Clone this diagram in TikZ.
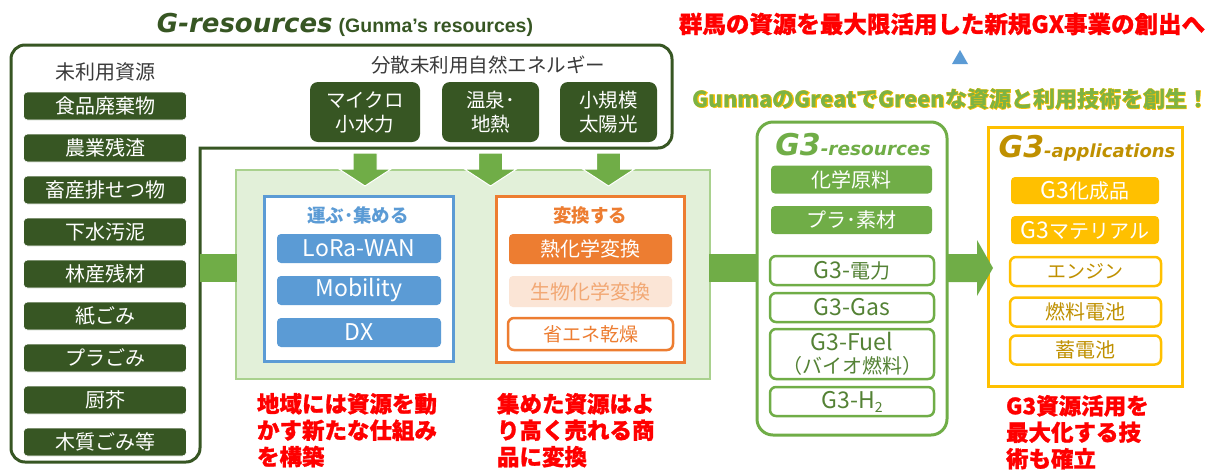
\documentclass[tikz,border=0pt]{standalone}
\usepackage{fontspec}
\setmainfont{Noto Sans CJK JP}
\newfontfamily\dejavu{DejaVu Sans}
\newfontfamily\libsans{Liberation Sans}
\usetikzlibrary{calc}
\definecolor{dkgreen}{HTML}{375623}
\definecolor{agreen}{HTML}{70AD47}
\definecolor{txgreen}{HTML}{548235}
\definecolor{lgfill}{HTML}{E2F0D9}
\definecolor{lgdraw}{HTML}{A9D18E}
\definecolor{cblue}{HTML}{5B9BD5}
\definecolor{corange}{HTML}{ED7D31}
\definecolor{peach}{HTML}{FBE5D6}
\definecolor{peachtx}{HTML}{F2A874}
\definecolor{gold}{HTML}{FFC000}
\definecolor{dkgold}{HTML}{BF9000}
\definecolor{cred}{HTML}{FF0000}
\definecolor{popgreen}{HTML}{7DB344}
\definecolor{dgray}{HTML}{3A3A3A}
\newcommand\myfs[1]{\fontsize{#1}{#1}\selectfont}
\newcommand\lat[1]{{\myfs{23}#1}}
\begin{document}
\begin{tikzpicture}[x=1pt,y=-1pt,
  every node/.style={inner sep=0pt,outer sep=0pt},
  lbox/.style={fill=dkgreen,draw=white,line width=0.6pt,rounded corners=4pt,text=white,minimum width=163pt,minimum height=28pt,font=\myfs{20}},
  tbox/.style={fill=dkgreen,rounded corners=8pt,text=white,align=center,font=\fontsize{19.5}{24}\selectfont,minimum height=60pt},
  bfill/.style={fill=cblue,rounded corners=4pt,text=white,minimum width=164pt,minimum height=29pt,font=\myfs{23}},
  ofill/.style={fill=corange,rounded corners=4pt,text=white,minimum width=163pt,minimum height=30pt,font=\myfs{20}},
  gfill/.style={fill=agreen,rounded corners=4pt,text=white,minimum width=161pt,minimum height=28pt,font=\myfs{20}},
  gline/.style={draw=agreen,line width=2.5pt,fill=white,rounded corners=6pt,text=txgreen,minimum width=164pt,minimum height=29pt,font=\myfs{20}},
  yfill/.style={fill=gold,rounded corners=4pt,text=white,minimum width=148pt,minimum height=27pt,font=\myfs{20}},
  yline/.style={draw=gold,line width=2.5pt,fill=white,rounded corners=6pt,text=dkgold,minimum width=151pt,minimum height=29pt,font=\myfs{19}},
  redtxt/.style={text=cred,font=\bfseries\fontsize{22.5}{26.5}\selectfont\addfontfeature{FakeBold=1},align=left,anchor=north west},
  arr/.style={fill=agreen}
]
\useasboundingbox (0,0) rectangle (1207,472);

% title
\node[text=dkgreen] (title) at (345,25) {{\dejavu\bfseries\itshape\myfs{26}G-resources}\hspace{6pt}{\libsans\bfseries\myfs{19.5}(Gunma’s resources)}};

% outer frame
\draw[dkgreen,line width=3pt,rounded corners=14pt,line cap=rect] (200,148) -- (672,148) -- (672,45) -- (11,45) -- (11,462) -- (200,462) -- (200,148);
\coordinate (lf) at (200,268);

% left column
\node[text=dgray,font=\myfs{20}] (lhead) at (105,72) {未利用資源};
\node[lbox] (l1) at (105,106) {食品廃棄物};
\node[lbox] (l2) at (105,148) {農業残渣};
\node[lbox] (l3) at (105,190) {畜産排せつ物};
\node[lbox] (l4) at (105,232) {下水汚泥};
\node[lbox] (l5) at (105,274) {林産残材};
\node[lbox] (l6) at (105,316) {紙ごみ};
\node[lbox] (l7) at (105,358) {プラごみ};
\node[lbox] (l8) at (105,400) {厨芥};
\node[lbox] (l9) at (105,442) {木質ごみ等};

% top energies
\node[text=dgray,font=\myfs{19.5}] (thead) at (488,65) {分散未利用自然エネルギー};
\node[tbox,minimum width=110pt] (e1) at (365,112) {マイクロ\\小水力};
\node[tbox,minimum width=97pt] (e2) at (490.5,112) {温泉･\\地熱};
\node[tbox,minimum width=97pt] (e3) at (608.5,112) {小規模\\太陽光};

% conversion area
\node[fill=lgfill,draw=lgdraw,line width=1.5pt,minimum width=474pt,minimum height=209pt] (conv) at (473,274.5) {};

\node[draw=cblue,line width=3pt,fill=white,minimum width=189pt,minimum height=165pt] (bluebox) at (358.5,278.5) {};
\node[text=cblue,font=\bfseries\myfs{18.5}] (btitle) at (358,215) {運ぶ･集める};
\node[bfill] (b1) at (359,248.5) {LoRa-WAN};
\node[bfill] (b2) at (359,290.5) {Mobility};
\node[bfill] (b3) at (359,332.5) {DX};

\node[draw=corange,line width=3pt,fill=white,minimum width=188pt,minimum height=166pt] (orbox) at (590,279) {};
\node[text=corange,font=\bfseries\myfs{18.5}] (otitle) at (590,215) {変換する};
\node[ofill] (o1) at (590.5,249) {熱化学変換};
\node[ofill,fill=peach,text=peachtx,minimum height=31pt] (o2) at (590.5,291.5) {生物化学変換};
\node[draw=corange,line width=2.5pt,fill=white,rounded corners=6pt,text=corange,minimum width=165pt,minimum height=32pt,font=\myfs{19}] (o3) at (590.5,334) {省エネ乾燥};

% down arrows
\foreach \e in {e1,e2,e3}{
  \fill[arr,draw=white,line width=1pt] ($(\e.south)+(-12,11)$) -- ($(\e.south |- conv.north)+(-12,-1)$) -- ++(-14,0) -- ($(\e.south |- conv.north)+(0,16)$) -- ($(\e.south |- conv.north)+(26,-1)$) -- ++(-14,0) -- ($(\e.south)+(12,11)$) -- cycle;
}

% red notes
\node[redtxt] (n1) at (257,393) {地域には資源を動\\かす新たな仕組み\\を構築};
\node[redtxt] (n2) at (497,393) {集めた資源はよ\\り高く売れる商\\品に変換};

% G3 resources
\node[draw=agreen,line width=3pt,rounded corners=16pt,minimum width=190pt,minimum height=313pt] (g3r) at (852,278.5) {};
\node[text=agreen] (g3rt) at (853,145) {{\dejavu\bfseries\itshape\myfs{30}G3}{\dejavu\bfseries\itshape\myfs{18.5}-resources}};
\node[gfill] (r1) at (851.5,179.5) {化学原料};
\node[gfill] (r2) at (851.5,220) {プラ･素材};
\node[gline] (r3) at (852,270.5) {\lat{G3-}電力};
\node[gline] (r4) at (852,307.5) {\lat{G3-Gas}};
\node[gline,minimum height=50pt,align=center,font=\fontsize{20}{23}\selectfont] (r5) at (852,354) {\lat{G3-Fuel}\\（バイオ燃料）};
\node[gline] (r6) at (852,401.5) {\lat{G3-H}{\myfs{14}\raisebox{-4pt}{2}}};

% G3 applications
\node[draw=gold,line width=3pt,minimum width=194pt,minimum height=259pt] (g3a) at (1085,256.5) {};
\node[text=dkgold] (g3at) at (1087,148) {{\dejavu\bfseries\itshape\myfs{30}G3}{\dejavu\bfseries\itshape\myfs{18}-applications}};
\node[yfill] (a1) at (1085,190.5) {\lat{G3}化成品};
\node[yfill,minimum height=28pt] (a2) at (1085,230) {\lat{G3}マテリアル};
\node[yline] (a3) at (1085.5,271.5) {エンジン};
\node[yline,font=\myfs{20}] (a4) at (1085.5,312) {燃料電池};
\node[yline,font=\myfs{20}] (a5) at (1085.5,350) {蓄電池};
\node[redtxt] (n3) at (1006,395) {G3資源活用を\\最大化する技\\術も確立};

% horizontal connectors
\fill[arr] ($(lf)+(0,-14)$) rectangle ($(conv.west |- lf)+(1,14)$);
\fill[arr] ($(conv.east |- lf)+(-1,-14)$) rectangle ($(g3r.west |- lf)+(1,14)$);
\fill[arr] ($(g3r.east |- lf)+(-1,-14)$) -- ++(31,0) -- ++(0,-14) -- ($(g3a.west |- lf)+(5,0)$) -- ($(g3r.east |- lf)+(30,28)$) -- ++(0,-14) -- ++(-31,0) -- cycle;

% top right messages
\node[text=cred,font=\bfseries\myfs{23.5}\addfontfeature{FakeBold=1}] (msg) at (942,24) {群馬の資源を最大限活用した新規GX事業の創出へ};
\fill[cblue] (952,64) -- (968,64) -- (960,50) -- cycle;
\node[text=gold,font=\bfseries\myfs{22}\addfontfeature{FakeBold=4}] (sloganbg) at (951,99) {GunmaのGreatでGreenな資源と利用技術を創生！};
\node[text=popgreen,font=\bfseries\myfs{22}] (slogan) at (951,99) {GunmaのGreatでGreenな資源と利用技術を創生！};
\end{tikzpicture}
\end{document}
